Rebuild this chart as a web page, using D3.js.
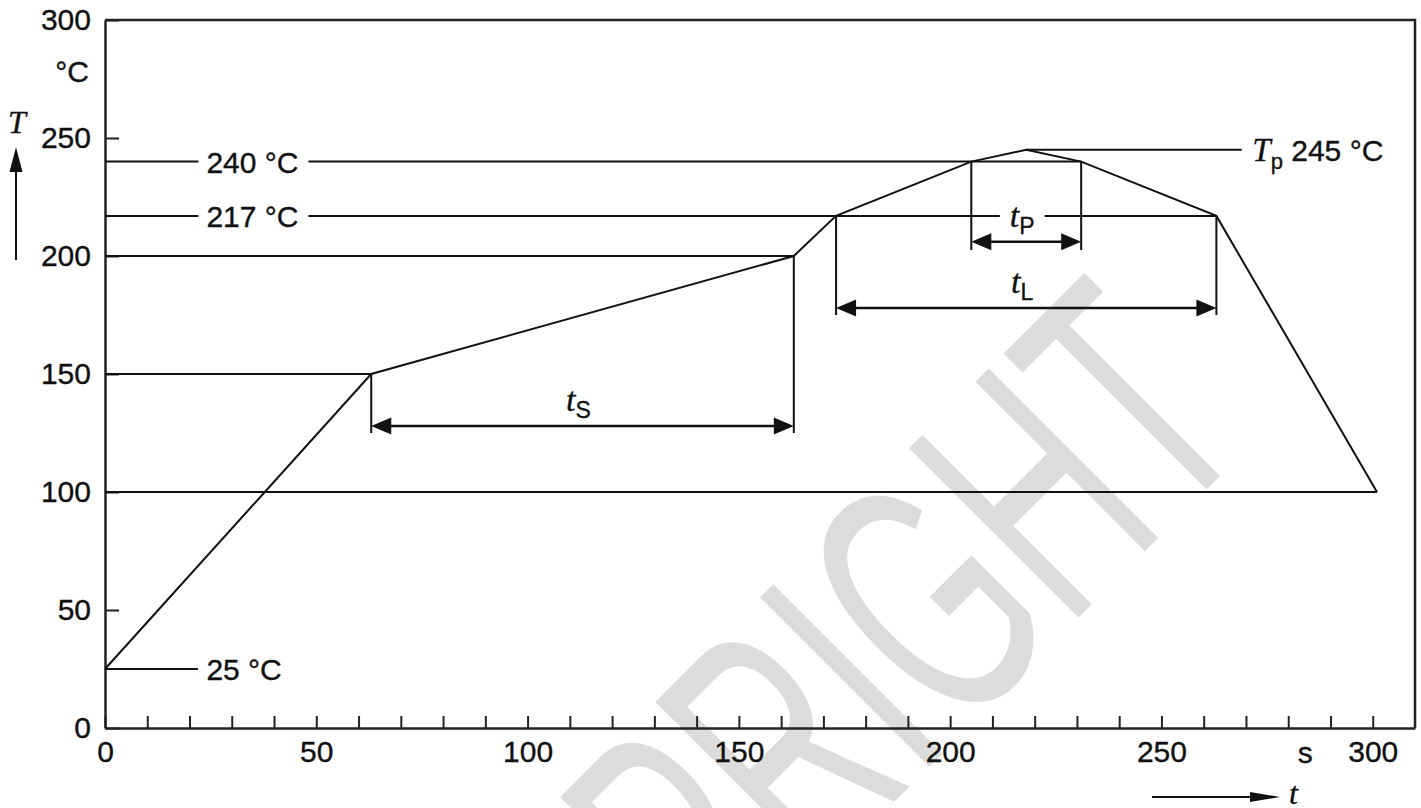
<!DOCTYPE html>
<html>
<head>
<meta charset="utf-8">
<script src="https://cdn.jsdelivr.net/npm/d3@7"></script>
<style>
body { margin: 0; background: #fff; }
svg { display: block; }
text { font-family: "Liberation Sans", Arial, Helvetica, sans-serif; fill: #111; stroke: #111; stroke-width: 0.35px; }
.it { font-family: "Liberation Serif", "Times New Roman", serif; font-style: italic; }
</style>
</head>
<body>
<div id="chart"></div>
<script>
// reflow profile (time in s, temperature in °C)
var profileTime = [0, 63, 163, 173, 205, 218, 231, 263, 301];
var profileTemp = [25, 150, 200, 217, 240, 245, 240, 217, 100];

// plain guide lines from the T axis to the profile
var guideTemp = [100, 150, 200];
var guideEnd = [301, 63, 163];

// labelled levels
var levelTemp = [25, 217, 240, 245];
var levelStart = [0, 0, 0, 218];
var levelEnd = [22, 263, 231, 269];
var levelLabelAt = [24, 24, 24, 271.5];
var levelText = ["25 °C", "217 °C", "240 °C", "245 °C"];

// time spans t_S, t_L, t_P
var spanSub = ["S", "L", "P"];
var spanStart = [63, 173, 205];
var spanEnd = [163, 263, 231];
var spanArrowTemp = [128, 178, 206];
var spanFootTemp = [125, 175, 202.5];

var xLabelTicks = [0, 50, 100, 150, 200, 250, 300];
var yTicks = [0, 50, 100, 150, 200, 250, 300];

var W = 1421, H = 808;

var svg = d3.select('#chart').append('svg')
    .attr('width', W)
    .attr('height', H);

var x = d3.scaleLinear().domain([0, 310]).range([105, 1415]);
var y = d3.scaleLinear().domain([0, 300]).range([728, 20]);

// watermark, behind everything (only its upper letters fall inside the page)
svg.append("text")
    .attr("transform", "translate(1257,439) rotate(-45) scale(0.58,1)")
    .attr("text-anchor", "end")
    .attr("font-size", 348)
    .style("fill", "#dcdcdc")
    .style("stroke", "none")
    .text("COPRIGHT");

// frame top + right
svg.append("path")
    .attr("d", "M" + x(0) + "," + y(300) + "H" + x(310) + "V" + y(0))
    .attr("fill", "none")
    .attr("stroke", "#222")
    .attr("stroke-width", 2.5);

var xAxis = d3.axisBottom(x)
    .tickValues(d3.range(0, 301, 10))
    .tickSizeInner(-12)
    .tickSizeOuter(0)
    .tickPadding(13)
    .tickFormat(function(d){ return xLabelTicks.indexOf(d) >= 0 ? d : ""; });

var yAxis = d3.axisLeft(y)
    .tickValues(yTicks)
    .tickSizeInner(-14)
    .tickSizeOuter(0)
    .tickPadding(14);

var gx = svg.append("g")
    .attr("transform", "translate(0," + y(0) + ")")
    .call(xAxis);
var gy = svg.append("g")
    .attr("transform", "translate(" + x(0) + ",0)")
    .call(yAxis);

[gx, gy].forEach(function(g){
    g.attr("font-size", 30).attr("font-family", "Liberation Sans, Arial, sans-serif");
    g.select(".domain").attr("stroke", "#222").attr("stroke-width", 2.5);
    g.selectAll(".tick line").attr("stroke", "#222").attr("stroke-width", 2);
    g.selectAll(".tick text").style("fill", "#111");
});

// units
svg.append("text")
    .attr("x", x(0) - 16)
    .attr("y", y(300) + 62)
    .attr("text-anchor", "end")
    .attr("font-size", 30)
    .text("°C");
svg.append("text")
    .attr("x", x(284))
    .attr("y", y(0) + 35)
    .attr("text-anchor", "middle")
    .attr("font-size", 30)
    .text("s");

function arrowHead(tipX, tipY, dir, len, half) {
    // dir: "l","r","u"
    if (dir == "r") return "M" + tipX + "," + tipY + "L" + (tipX - len) + "," + (tipY - half) + "L" + (tipX - len) + "," + (tipY + half) + "Z";
    if (dir == "l") return "M" + tipX + "," + tipY + "L" + (tipX + len) + "," + (tipY - half) + "L" + (tipX + len) + "," + (tipY + half) + "Z";
    return "M" + tipX + "," + tipY + "L" + (tipX - half) + "," + (tipY + len) + "L" + (tipX + half) + "," + (tipY + len) + "Z";
}

// axis name arrows
svg.append("line")
    .attr("x1", 16).attr("x2", 16).attr("y1", 260).attr("y2", 168)
    .attr("stroke", "#111").attr("stroke-width", 2);
svg.append("path").attr("d", arrowHead(16, 147, "u", 25, 6.5)).attr("fill", "#111");
svg.append("text")
    .attr("class", "it")
    .attr("x", 17).attr("y", 133)
    .attr("text-anchor", "middle")
    .attr("font-size", 32)
    .text("T");

svg.append("line")
    .attr("x1", 1152).attr("x2", 1256).attr("y1", 797).attr("y2", 797)
    .attr("stroke", "#111").attr("stroke-width", 2);
svg.append("path").attr("d", arrowHead(1280, 797, "r", 30, 5)).attr("fill", "#111");
svg.append("text")
    .attr("class", "it")
    .attr("x", 1289).attr("y", 804)
    .attr("font-size", 32)
    .text("t");

// guide lines
svg.selectAll(".guide")
    .data(guideTemp)
    .enter().append("line")
    .attr("class", "guide")
    .attr("x1", x(0))
    .attr("x2", function(d, i){ return x(guideEnd[i]); })
    .attr("y1", function(d){ return y(d); })
    .attr("y2", function(d){ return y(d); })
    .attr("stroke", "#111")
    .attr("stroke-width", 2);

// labelled levels
var lev = svg.selectAll(".level")
    .data(levelTemp)
    .enter().append("g")
    .attr("class", "level");

lev.append("line")
    .attr("x1", function(d, i){ return x(levelStart[i]); })
    .attr("x2", function(d, i){ return x(levelEnd[i]); })
    .attr("y1", function(d){ return y(d); })
    .attr("y2", function(d){ return y(d); })
    .attr("stroke", "#111")
    .attr("stroke-width", 2);

lev.each(function(d, i){
    var g = d3.select(this);
    var t = g.append("text")
        .attr("x", x(levelLabelAt[i]))
        .attr("y", y(d) + 11)
        .attr("font-size", 30);
    if (d == 245) {
        t.append("tspan").attr("class", "it").attr("font-size", 33).text("T");
        t.append("tspan").attr("dy", 8).attr("font-size", 22).text("p");
        t.append("tspan").attr("dy", -8).text(" " + levelText[i]);
    } else {
        t.text(levelText[i]);
    }
    var bb = t.node().getBBox();
    g.insert("rect", "text")
        .attr("x", bb.x - 8)
        .attr("y", bb.y + 2)
        .attr("width", bb.width + 18)
        .attr("height", bb.height - 4)
        .attr("fill", "#fff");
});

// spans
var sp = svg.selectAll(".span")
    .data(spanSub)
    .enter().append("g")
    .attr("class", "span");

sp.each(function(d, i){
    var g = d3.select(this);
    var x0 = x(spanStart[i]), x1 = x(spanEnd[i]);
    var ya = y(spanArrowTemp[i]), yf = y(spanFootTemp[i]);
    var top0 = y(profileTemp[profileTime.indexOf(spanStart[i])]);
    var top1 = y(profileTemp[profileTime.indexOf(spanEnd[i])]);
    g.append("line").attr("x1", x0).attr("x2", x0).attr("y1", top0).attr("y2", yf)
        .attr("stroke", "#111").attr("stroke-width", 2);
    g.append("line").attr("x1", x1).attr("x2", x1).attr("y1", top1).attr("y2", yf)
        .attr("stroke", "#111").attr("stroke-width", 2);
    g.append("line").attr("x1", x0 + 10).attr("x2", x1 - 10).attr("y1", ya).attr("y2", ya)
        .attr("stroke", "#111").attr("stroke-width", 2.5);
    g.append("path").attr("d", arrowHead(x0, ya, "l", 20, 8.5)).attr("fill", "#111");
    g.append("path").attr("d", arrowHead(x1, ya, "r", 20, 8.5)).attr("fill", "#111");

    var t = g.append("text")
        .attr("x", (x0 + x1) / 2 - 4)
        .attr("y", ya - 15)
        .attr("text-anchor", "middle")
        .attr("font-size", 34);
    t.append("tspan").attr("class", "it").text("t");
    t.append("tspan").attr("dy", 7).attr("font-size", 23).text(d);
    if (d == "P") {
        var bb = t.node().getBBox();
        g.insert("rect", "text")
            .attr("x", bb.x - 10)
            .attr("y", bb.y + 2)
            .attr("width", bb.width + 20)
            .attr("height", bb.height - 6)
            .attr("fill", "#fff");
    }
});

// profile
var line = d3.line()
    .x(function(d){ return x(d); })
    .y(function(d, i){ return y(profileTemp[i]); });

svg.append("path")
    .datum(profileTime)
    .attr("d", line)
    .attr("fill", "none")
    .attr("stroke", "#111")
    .attr("stroke-width", 2)
    .attr("stroke-linejoin", "miter");
</script>
</body>
</html>
